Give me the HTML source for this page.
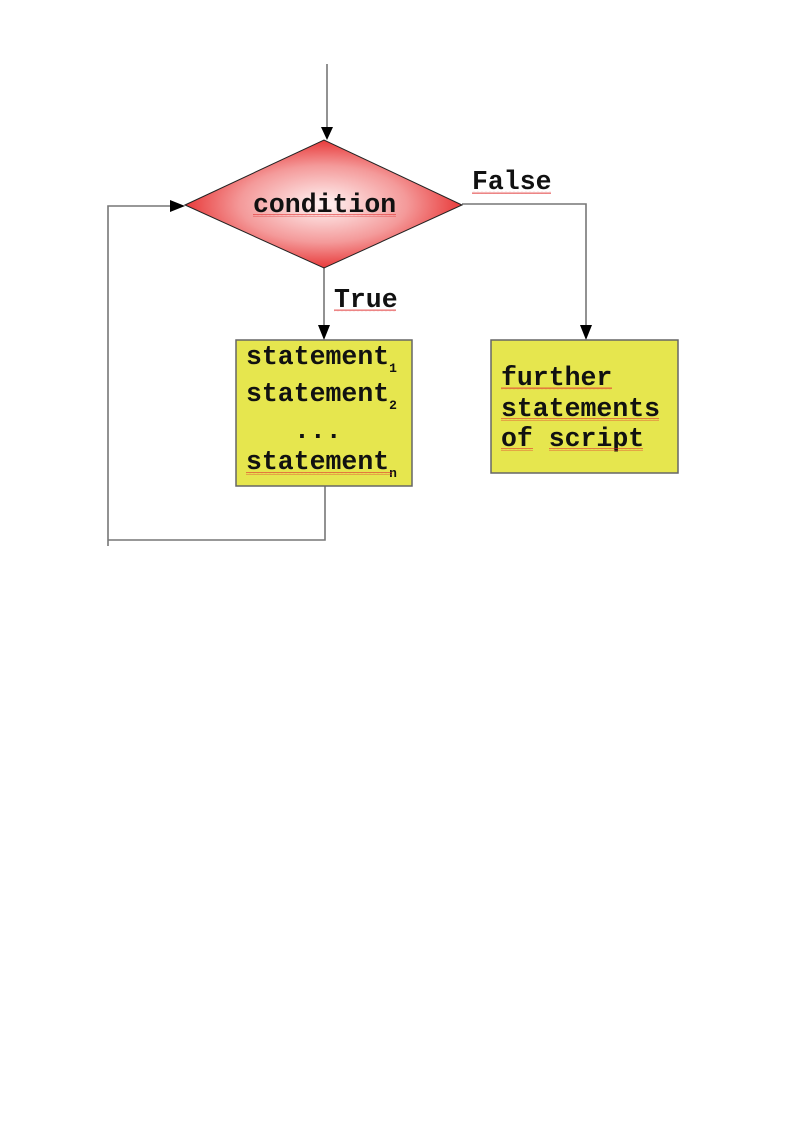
<!DOCTYPE html>
<html><head><meta charset="utf-8"><style>
html,body{margin:0;padding:0;background:#fff;}
svg{display:block;}
text{font-family:"Liberation Mono","Courier New",monospace;font-weight:bold;fill:#111;}
</style></head><body>
<svg width="794" height="1123" viewBox="0 0 794 1123" xmlns="http://www.w3.org/2000/svg">
<defs>
<radialGradient id="rg" cx="0.5" cy="0.5" r="0.5">
<stop offset="0" stop-color="#fff4f4"/>
<stop offset="0.6" stop-color="#f49a9a"/>
<stop offset="1" stop-color="#e83a3a"/>
</radialGradient>
<pattern id="wave" width="4" height="3" patternUnits="userSpaceOnUse">
<path d="M0 2 L1 0.5 L2 2 L3 0.5 L4 2" stroke="#e03030" stroke-width="0.6" fill="none"/>
</pattern>
</defs>
<g stroke="#777" stroke-width="1.6" fill="none">
<line x1="327" y1="64" x2="327" y2="128"/>
<polyline points="462,204 586,204 586,326"/>
<line x1="324" y1="268" x2="324" y2="326"/>
<polyline points="325,486 325,540 108,540"/>
<polyline points="108,546 108,206 172,206"/>
</g>
<g fill="#000">
<polygon points="321,127 333,127 327,140"/>
<polygon points="580,325 592,325 586,340"/>
<polygon points="318,325 330,325 324,340"/>
<polygon points="170,200 170,212 185,206"/>
</g>
<polygon points="185,205 324,140 462,205 324,268" fill="url(#rg)" stroke="#222" stroke-width="1"/>
<rect x="236" y="340" width="176" height="146" fill="#e6e64e" stroke="#666" stroke-width="1.5"/>
<rect x="491" y="340" width="187" height="133" fill="#e6e64e" stroke="#666" stroke-width="1.5"/>
<text x="253" y="212" font-size="26.5">condition</text>
<text x="472" y="189" font-size="26.5">False</text>
<text x="334" y="307" font-size="26.5">True</text>
<text x="246" y="364" font-size="26.5">statement<tspan font-size="13" dy="8">1</tspan></text>
<text x="246" y="401" font-size="26.5">statement<tspan font-size="13" dy="8">2</tspan></text>
<text x="294" y="438" font-size="26.5">...</text>
<text x="246" y="469" font-size="26.5">statement<tspan font-size="13" dy="8">n</tspan></text>
<text x="501" y="385" font-size="26.5">further</text>
<text x="501" y="416" font-size="26.5">statements</text>
<text x="501" y="446" font-size="26.5">of script</text>
<g fill="url(#wave)">
<rect x="253" y="214" width="143" height="3"/>
<rect x="472" y="191" width="79" height="3"/>
<rect x="334" y="309" width="62" height="3"/>
<rect x="246" y="472" width="146" height="3"/>
<rect x="501" y="387" width="111" height="3"/>
<rect x="501" y="418" width="158" height="3"/>
<rect x="501" y="448" width="32" height="3"/>
<rect x="549" y="448" width="94" height="3"/>
</g>
</svg>
</body></html>
